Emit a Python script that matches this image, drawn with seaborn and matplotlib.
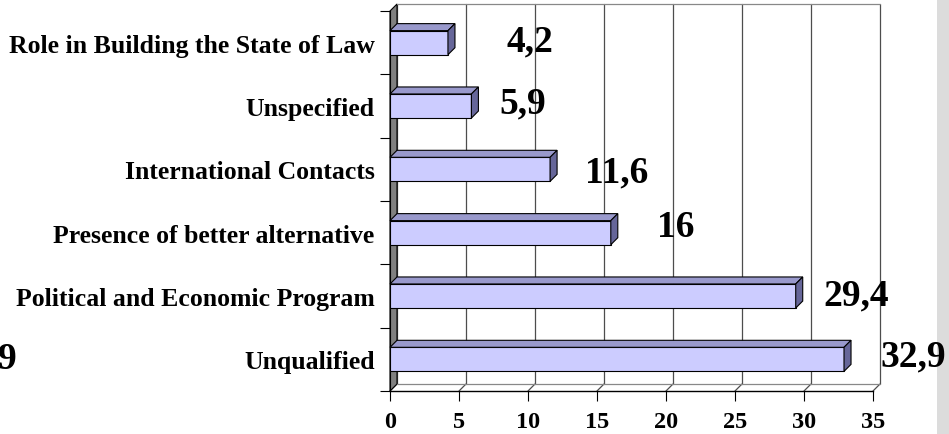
import numpy as np
import pandas as pd
import seaborn as sns
import matplotlib.pyplot as plt
from matplotlib.patches import Polygon, Rectangle

#chart data
categories = ['Role in Building the State of Law', 'Unspecified', 'International Contacts',
              'Presence of better alternative', 'Political and Economic Program', 'Unqualified']
values = [4.2, 5.9, 11.6, 16, 29.4, 32.9]
x_ticks = [0, 5, 10, 15, 20, 25, 30, 35]

#label placement (pixels from the bar end: right, up)
label_offsets = [(82, 2), (51, 3), (67, -3), (65, 6), (60, 1), (69, 3)]

df = pd.DataFrame({'category': categories, 'value': values})

sns.set_style('white')
plt.rcParams['font.family'] = ['Liberation Serif', 'DejaVu Serif']
plt.rcParams['font.weight'] = 'bold'
plt.rcParams['text.color'] = 'black'
plt.rcParams['xtick.color'] = 'black'
plt.rcParams['ytick.color'] = 'black'

fig = plt.figure(figsize=(9.49, 4.35), dpi=100)
ax = fig.add_axes([390 / 949, 43 / 435, 483 / 949, 380 / 435])
ax.patch.set_alpha(0)

sns.barplot(data=df, x='value', y='category', orient='h', color='#CCCCFF',
            saturation=1, width=0.38, edgecolor='black', linewidth=0.8, ax=ax, zorder=3)

ax.set_xlim(0, 35)
ax.set_ylim(5.5, -0.5)

#depth of the fake 3d box, in data units (7 px each way)
dx = 7 / (483 / 35)
dy = 7 / (380 / 6)
y_front, y_top = 5.5, -0.5

#back wall and grid
for t in x_ticks:
    ax.plot([t + dx, t + dx], [y_front - dy, y_top - dy], color='#4d4d4d', lw=0.9,
            zorder=0.5, clip_on=False)
    ax.plot([t, t + dx], [y_front, y_front - dy], color='#4d4d4d', lw=0.9,
            zorder=0.5, clip_on=False)
ax.plot([dx, 35 + dx], [y_top - dy, y_top - dy], color='#888888', lw=0.9, clip_on=False)
ax.plot([dx, 35 + dx], [y_front - dy, y_front - dy], color='#888888', lw=0.9, clip_on=False)

#left wall
wall = Polygon([(0, y_front), (0, y_top), (dx, y_top - dy), (dx, y_front - dy)],
               closed=True, facecolor='#808080', edgecolor='black', lw=0.8,
               zorder=1, clip_on=False)
ax.add_patch(wall)

#top and side faces of the bars
for bar in ax.patches[:len(values)]:
    x0 = bar.get_x()
    x1 = x0 + bar.get_width()
    yt = bar.get_y()
    yb = yt + bar.get_height()
    top = Polygon([(x0, yt), (x1, yt), (x1 + dx, yt - dy), (x0 + dx, yt - dy)],
                  closed=True, facecolor='#9999CC', edgecolor='black', lw=0.8,
                  zorder=3, clip_on=False)
    side = Polygon([(x1, yt), (x1 + dx, yt - dy), (x1 + dx, yb - dy), (x1, yb)],
                   closed=True, facecolor='#666699', edgecolor='black', lw=0.8,
                   zorder=3, clip_on=False)
    ax.add_patch(top)
    ax.add_patch(side)

#value labels
for i, (v, off) in enumerate(zip(values, label_offsets)):
    ax.annotate(f'{v:g}'.replace('.', ','), xy=(v, i), xytext=off,
                textcoords='offset pixels', ha='center', va='center',
                fontsize=27, fontweight='bold', color='black', zorder=5,
                annotation_clip=False)

#axes styling
sns.despine(ax=ax, top=True, right=True)
ax.spines['left'].set_color('black')
ax.spines['bottom'].set_color('black')
ax.spines['left'].set_linewidth(0.8)
ax.spines['bottom'].set_linewidth(1.0)
ax.set_xticks(x_ticks)
ax.set_xticklabels([str(t) for t in x_ticks], fontsize=17.5, fontweight='bold')
ax.set_yticks(range(len(categories)))
ax.set_yticklabels(categories, fontsize=18.5, fontweight='bold')
ax.set_yticks(np.arange(-0.5, 6, 1), minor=True)
ax.tick_params(axis='x', direction='out', length=7.2, width=0.8, color='black', pad=7,
               bottom=True, labelcolor='black')
ax.tick_params(axis='y', which='major', length=0, pad=11, labelcolor='black')
ax.tick_params(axis='y', which='minor', direction='out', length=7.2, width=0.8,
               color='black', left=True)
ax.set_xlabel('')
ax.set_ylabel('')

#cut off label at the left edge and the textured strip at the right
fig.text(17 / 949, 1 - 360 / 435, '9', ha='right', va='center', fontsize=27,
         fontweight='bold', color='black')
strip = Rectangle((937 / 949, 0), 12 / 949, 1, transform=fig.transFigure,
                  facecolor='#DCDCDC', edgecolor='none', zorder=-1)
fig.patches.append(strip)

plt.savefig('out.png', dpi=100)
